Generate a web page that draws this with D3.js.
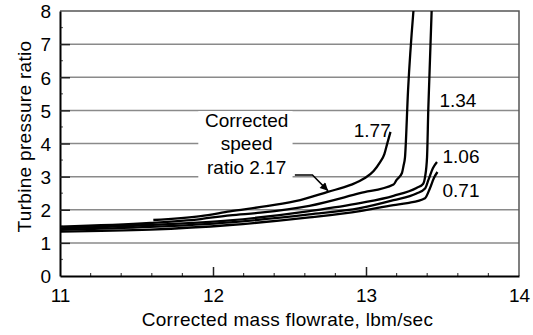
<!DOCTYPE html>
<html>
<head>
<meta charset="utf-8">
<script src="https://cdn.jsdelivr.net/npm/d3@7"></script>
<style>
	body { margin: 0; background: #fff; }
	svg { font-family: "Liberation Sans", Arial, sans-serif; }
</style>
</head>
<body>
<div id="chart"></div>
<script>
'use strict';

// Corrected mass flowrate (lbm/sec) and turbine pressure ratio, one pair per speed line
var flow217 = [11.61, 11.92, 12.11, 12.35, 12.57, 12.75, 12.90, 12.99, 13.05, 13.09, 13.12, 13.14, 13.16];
var pr217   = [1.69, 1.81, 1.95, 2.11, 2.29, 2.54, 2.75, 2.95, 3.17, 3.42, 3.68, 4.02, 4.35];

var flow177 = [11.0, 11.59, 11.92, 12.11, 12.31, 12.63, 12.96, 13.18, 13.20, 13.235, 13.245, 13.255, 13.275, 13.31];
var pr177   = [1.49, 1.60, 1.72, 1.83, 1.91, 2.12, 2.50, 2.76, 2.90, 3.11, 3.32, 3.59, 5.62, 8.0];

var flow134 = [11.0, 11.59, 12.11, 12.63, 12.96, 13.18, 13.33, 13.373, 13.386, 13.399, 13.407, 13.429];
var pr134   = [1.44, 1.54, 1.68, 1.96, 2.20, 2.42, 2.66, 2.78, 2.99, 3.59, 5.01, 8.0];

var flow106 = [11.0, 11.59, 12.11, 12.63, 12.96, 13.18, 13.33, 13.386, 13.408, 13.438, 13.464];
var pr106   = [1.39, 1.48, 1.62, 1.86, 2.05, 2.29, 2.49, 2.64, 2.90, 3.26, 3.44];

var flow071 = [11.0, 11.59, 12.11, 12.63, 12.96, 13.18, 13.27, 13.386, 13.418, 13.444, 13.467];
var pr071   = [1.34, 1.40, 1.54, 1.77, 1.96, 2.14, 2.20, 2.35, 2.65, 2.96, 3.14];

var xTicks = [11, 12, 13, 14];
var yTicks = [0, 1, 2, 3, 4, 5, 6, 7, 8];

// Speed labels and where they sit (data coordinates)
var lineLabels = ['1.77', '1.34', '1.06', '0.71'];
var labelX = [12.92, 13.48, 13.5, 13.5];
var labelY = [4.2, 5.1, 3.4, 2.39];

var noteLines = ['Corrected', 'speed', 'ratio 2.17'];

var width = 533, height = 335;
var margin = { top: 11, right: 14, bottom: 59, left: 60 };
var fontSize = 19;

var svg = d3.select('#chart')
	.append('svg')
	.attr('width', width)
	.attr('height', height);

var x = d3.scaleLinear().domain([11, 14]).range([margin.left, width - margin.right]);
var y = d3.scaleLinear().domain([0, 8]).range([height - margin.bottom, margin.top]);

// Grid
svg.append('g')
	.selectAll('line')
	.data(yTicks.slice(1, -1))
	.enter()
	.append('line')
	.attr('x1', x(11)).attr('x2', x(14))
	.attr('y1', function(d) { return y(d); })
	.attr('y2', function(d) { return y(d); })
	.attr('stroke', '#8a8a8a')
	.attr('stroke-width', 1.5);

// Frame, top and right
svg.append('path')
	.attr('d', 'M' + x(11) + ',' + y(8) + 'H' + x(14) + 'V' + y(0))
	.attr('fill', 'none')
	.attr('stroke', '#555')
	.attr('stroke-width', 1.5);

// Minor ticks
svg.append('g')
	.selectAll('line')
	.data(d3.range(11.2, 14, 0.2).filter(function(d) { return Math.abs(d - Math.round(d)) > 0.05; }))
	.enter()
	.append('line')
	.attr('x1', function(d) { return x(d); })
	.attr('x2', function(d) { return x(d); })
	.attr('y1', y(0)).attr('y2', y(0) - 3)
	.attr('stroke', '#444').attr('stroke-width', 1.2);

svg.append('g')
	.selectAll('line')
	.data(d3.range(0.5, 8, 1))
	.enter()
	.append('line')
	.attr('x1', x(11)).attr('x2', x(11) + 3)
	.attr('y1', function(d) { return y(d); })
	.attr('y2', function(d) { return y(d); })
	.attr('stroke', '#666').attr('stroke-width', 1.2);

// Axes
var xAxis = svg.append('g')
	.attr('transform', 'translate(0,' + y(0) + ')')
	.call(d3.axisBottom(x).tickValues(xTicks).tickFormat(d3.format('d')).tickSize(-9).tickPadding(13).tickSizeOuter(0));

var yAxis = svg.append('g')
	.attr('transform', 'translate(' + x(11) + ',0)')
	.call(d3.axisLeft(y).tickValues(yTicks).tickFormat(d3.format('d')).tickSize(-10).tickPadding(9).tickSizeOuter(0));

[xAxis, yAxis].forEach(function(a) {
	a.select('.domain').attr('stroke', '#000').attr('stroke-width', 2);
	a.selectAll('.tick line').attr('stroke', '#222').attr('stroke-width', 1.5);
	a.selectAll('.tick text')
		.attr('fill', '#000')
		.style('font-size', fontSize + 'px')
		.style('font-family', '"Liberation Sans", Arial, sans-serif');
});
yAxis.selectAll('.tick text').attr('dy', '0.36em');
yAxis.selectAll('.tick').filter(function(d) { return d === 0 || d === 8; }).select('line').remove();
xAxis.selectAll('.tick').filter(function(d) { return d === 11 || d === 14; }).select('line').remove();

// Axis titles
svg.append('text')
	.attr('x', (x(11) + x(14)) / 2 - 2)
	.attr('y', 326)
	.attr('text-anchor', 'middle')
	.style('font-size', fontSize + 'px')
	.style('letter-spacing', '0.3px')
	.text('Corrected mass flowrate, lbm/sec');

svg.append('text')
	.attr('transform', 'translate(31,' + (y(4) - 7) + ') rotate(-90)')
	.attr('text-anchor', 'middle')
	.style('font-size', fontSize + 'px')
	.style('letter-spacing', '0.3px')
	.text('Turbine pressure ratio');

// Speed lines
var series = [
	[flow217, pr217],
	[flow177, pr177],
	[flow134, pr134],
	[flow106, pr106],
	[flow071, pr071]
];

var line = d3.line()
	.x(function(d) { return x(d[0]); })
	.y(function(d) { return y(d[1]); })
	.curve(d3.curveMonotoneX);

svg.append('g')
	.selectAll('path')
	.data(series)
	.enter()
	.append('path')
	.attr('d', function(s) { return line(d3.zip(s[0], s[1])); })
	.attr('fill', 'none')
	.attr('stroke', '#000')
	.attr('stroke-width', 2.3)
	.attr('stroke-linejoin', 'round');

// Speed labels
svg.append('g')
	.selectAll('text')
	.data(lineLabels)
	.enter()
	.append('text')
	.attr('x', function(d, i) { return x(labelX[i]); })
	.attr('y', function(d, i) { return y(labelY[i]); })
	.style('font-size', fontSize + 'px')
	.text(function(d) { return d; });

// Note box with arrow to the 2.17 line
svg.append('rect')
	.attr('x', x(11.904))
	.attr('y', y(4.98))
	.attr('width', x(12.52) - x(11.904))
	.attr('height', y(2.88) - y(4.98))
	.attr('fill', '#fff');

svg.append('text')
	.attr('text-anchor', 'middle')
	.style('font-size', fontSize + 'px')
	.selectAll('tspan')
	.data(noteLines)
	.enter()
	.append('tspan')
	.attr('x', x(12.22))
	.attr('y', function(d, i) { return y(4.5) + i * 23.5; })
	.text(function(d) { return d; });

svg.append('defs')
	.append('marker')
	.attr('id', 'head')
	.attr('viewBox', '0 0 10 10')
	.attr('refX', 10).attr('refY', 5)
	.attr('markerWidth', 10).attr('markerHeight', 8)
	.attr('markerUnits', 'userSpaceOnUse')
	.attr('orient', 'auto')
	.append('path')
	.attr('d', 'M0,0L10,5L0,10Z')
	.attr('fill', '#000');

svg.append('path')
	.attr('d', 'M' + x(12.535) + ',' + y(3.05) + 'H' + x(12.65) + 'L' + x(12.752) + ',' + y(2.57))
	.attr('fill', 'none')
	.attr('stroke', '#000')
	.attr('stroke-width', 1.5)
	.attr('marker-end', 'url(#head)');
</script>
</body>
</html>
